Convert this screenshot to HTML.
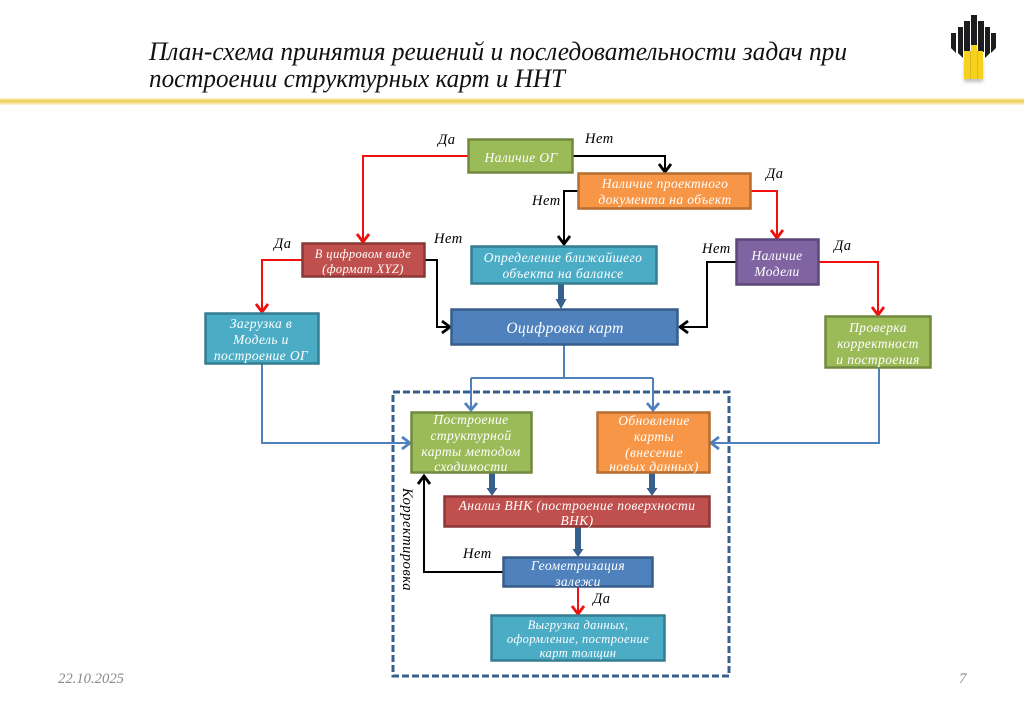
<!DOCTYPE html>
<html><head><meta charset="utf-8">
<style>
html,body{margin:0;padding:0;background:#fff;width:1024px;height:708px;overflow:hidden}
svg{display:block}
text{font-family:"Liberation Serif","DejaVu Serif",serif;font-style:italic}
.w text,text.w{fill:#fff;font-size:13.500px;text-anchor:middle;letter-spacing:.4px}
.l{fill:#000;font-size:14.500px;letter-spacing:.5px}
.k{fill:none;stroke:#000;stroke-width:2}
.r{fill:none;stroke:#f01010;stroke-width:2}
.b{fill:none;stroke:#4f81bd;stroke-width:2}
.ah{stroke-width:2.800}
.t{fill:none;stroke:#38608f;stroke-width:6}
.tf{fill:#38608f}
</style></head><body>
<svg width="1024" height="708" viewBox="0 0 1024 708" xmlns="http://www.w3.org/2000/svg">
<defs>
<linearGradient id="g" x1="0" y1="0" x2="0" y2="1"><stop offset="0" stop-color="#fdf6cf"/><stop offset=".45" stop-color="#eccb50"/><stop offset="1" stop-color="#fdf8e0"/></linearGradient>
<filter id="s" x="-20%" y="-20%" width="140%" height="140%"><feGaussianBlur stdDeviation="1.500"/></filter>
</defs>
<rect width="1024" height="708" fill="#fff"/>
<rect x="0" y="98" width="1024" height="7" fill="url(#g)"/>
<text x="149" y="60" font-size="26" fill="#111" textLength="698" lengthAdjust="spacingAndGlyphs">План-схема принятия решений и последовательности задач при</text>
<text x="149" y="87" font-size="26" fill="#111" textLength="416" lengthAdjust="spacingAndGlyphs">построении структурных карт и ННТ</text>

<!-- logo -->
<g>
<rect x="964" y="60" width="19" height="22" fill="#999" opacity=".6" filter="url(#s)"/>
<path d="M951 33h5v15l5 5v-26h2v29l1-1v-34h6v-6h6v6h1v-0h6v34l1 1v-29h1v26l5-5v-15h5v17l-8 8-8-7h-19l-7-8z" fill="#1d1d1f" opacity="0"/>
<path d="M951 33h5v20l-5-5zM958 27h5v31l-5-5zM964 21h6v31h-6zM971 15h6v31h-6zM978 21h6v31h-6zM985 27h5v26l-5 5zM991 33h5v15l-5 5z" fill="#1d1d1f"/>
<path d="M964 51h6v28h-6zM971 45h6v34h-6zM978 51h5v28h-5z" fill="#f6d21f"/>
<path d="M970 51h1v28h-1zM977 51h1v28h-1z" fill="#dcb820"/>
</g>

<!-- dashed frame -->
<rect x="393" y="392" width="336" height="284" fill="none" stroke="#38608f" stroke-width="3" stroke-dasharray="7 3"/>

<!-- thick arrows -->
<g>
<path class="t" d="M561 284V303M492 473V491M652 473V491M578 527V552"/>
<path class="tf" d="M555.500 299h11l-5.500 10zM486.500 488h11l-5.500 8zM646.500 488h11l-5.500 8zM572.500 549h11l-5.500 8z"/>
</g>

<!-- black connectors -->
<path class="k" d="M573 156H665V171M573 191"/>
<path class="k ah" d="M659 164l6 8 6-8"/>
<path class="k" d="M578 191H564V244"/>
<path class="k ah" d="M558 236l6 8 6-8"/>
<path class="k" d="M425 260H437V327H449"/>
<path class="k ah" d="M442 321l8 6-8 6"/>
<path class="k" d="M736 262H707V327H680"/>
<path class="k ah" d="M688 321l-8 6 8 6"/>
<path class="k" d="M503 572H424V476"/>
<path class="k ah" d="M418 484l6-8 6 8"/>
<!-- red connectors -->
<path class="r" d="M468 156H363V242"/>
<path class="r ah" d="M357 234l6 8 6-8"/>
<path class="r" d="M302 260H262V312"/>
<path class="r ah" d="M256 304l6 8 6-8"/>
<path class="r" d="M751 191H777V238"/>
<path class="r ah" d="M771 230l6 8 6-8"/>
<path class="r" d="M819 262H878V315"/>
<path class="r ah" d="M872 307l6 8 6-8"/>
<path class="r" d="M578 587V614"/>
<path class="r ah" d="M572 606l6 8 6-8"/>
<!-- blue connectors -->
<path class="b" d="M564 345V378M471 378H653M471 378V410M653 378V410"/>
<path class="b ah" d="M465 403l6 7 6-7M647 403l6 7 6-7"/>
<path class="b" d="M262 364V443H410"/>
<path class="b ah" d="M402 437l8 6-8 6"/>
<path class="b" d="M879 368V443H711"/>
<path class="b ah" d="M719 437l-8 6 8 6"/>

<!-- boxes -->
<g stroke-width="2.500">
<rect x="468.500" y="139.500" width="104" height="33" fill="#9bbb59" stroke="#71893f"/>
<rect x="578.500" y="173.500" width="172" height="35" fill="#f79646" stroke="#b66d31"/>
<rect x="471.500" y="246.500" width="185" height="37" fill="#4bacc6" stroke="#357d91"/>
<rect x="302.500" y="243.500" width="122" height="33" fill="#c0504d" stroke="#8c3836"/>
<rect x="205.500" y="313.500" width="113" height="50" fill="#4bacc6" stroke="#357d91"/>
<rect x="451.500" y="309.500" width="226" height="35" fill="#4f81bd" stroke="#385d8a"/>
<rect x="736.500" y="239.500" width="82" height="45" fill="#8064a2" stroke="#5c4776"/>
<rect x="825.500" y="316.500" width="105" height="51" fill="#9bbb59" stroke="#71893f"/>
<rect x="411.500" y="412.500" width="120" height="60" fill="#9bbb59" stroke="#71893f"/>
<rect x="597.500" y="412.500" width="112" height="60" fill="#f79646" stroke="#b66d31"/>
<rect x="444.500" y="496.500" width="265" height="30" fill="#c0504d" stroke="#8c3836"/>
<rect x="503.500" y="557.500" width="149" height="29" fill="#4f81bd" stroke="#385d8a"/>
<rect x="491.500" y="615.500" width="173" height="45" fill="#4bacc6" stroke="#357d91"/>
</g>

<!-- box text -->
<g class="w">
<text x="521" y="162">Наличие ОГ</text>
<text x="665" y="188">Наличие проектного</text>
<text x="665" y="204">документа на объект</text>
<text x="563" y="262">Определение ближайшего</text>
<text x="563" y="278">объекта на балансе</text>
<text x="363" y="258" style="font-size:12.500px">В цифровом виде</text>
<text x="363" y="273" style="font-size:12.500px">(формат XYZ)</text>
<text x="261" y="328">Загрузка в</text>
<text x="261" y="344">Модель и</text>
<text x="261" y="360">построение ОГ</text>
<text x="565" y="333" style="font-size:15.500px">Оцифровка карт</text>
<text x="777" y="260">Наличие</text>
<text x="777" y="276">Модели</text>
<text x="878" y="332">Проверка</text>
<text x="878" y="348">корректност</text>
<text x="878" y="364">и построения</text>
<text x="471" y="424">Построение</text>
<text x="471" y="440">структурной</text>
<text x="471" y="456">карты методом</text>
<text x="471" y="471">сходимости</text>
<text x="654" y="425">Обновление</text>
<text x="654" y="441">карты</text>
<text x="654" y="457">(внесение</text>
<text x="654" y="471">новых данных)</text>
<text x="577" y="510">Анализ ВНК (построение  поверхности</text>
<text x="577" y="525">ВНК)</text>
<text x="578" y="570">Геометризация</text>
<text x="578" y="586">залежи</text>
<text x="578" y="629" style="font-size:12.500px">Выгрузка данных,</text>
<text x="578" y="643" style="font-size:12.500px">оформление, построение</text>
<text x="578" y="657" style="font-size:12.500px">карт толщин</text>
</g>

<!-- edge labels -->
<text class="l" x="438" y="144">Да</text>
<text class="l" x="585" y="143">Нет</text>
<text class="l" x="766" y="178">Да</text>
<text class="l" x="532" y="205">Нет</text>
<text class="l" x="274" y="248">Да</text>
<text class="l" x="434" y="243">Нет</text>
<text class="l" x="702" y="253">Нет</text>
<text class="l" x="834" y="250">Да</text>
<text class="l" x="463" y="558">Нет</text>
<text class="l" x="593" y="603">Да</text>
<text class="l" transform="translate(403,488) rotate(90)" textLength="103">Корректировка</text>

<text x="58" y="683" font-size="15" fill="#8a8a8a" textLength="66" lengthAdjust="spacingAndGlyphs">22.10.2025</text>
<text x="959" y="683" font-size="15" fill="#8a8a8a">7</text>
</svg>
</body></html>
